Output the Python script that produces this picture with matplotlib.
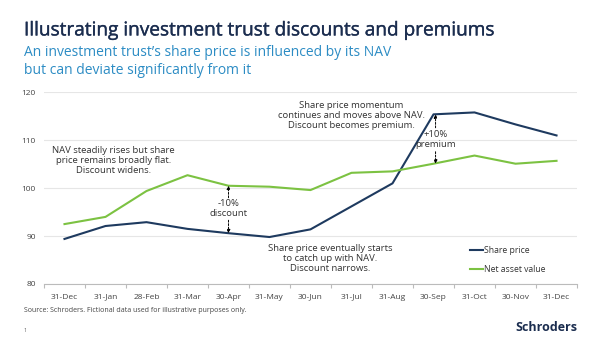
import matplotlib
matplotlib.use("Agg")
import matplotlib.pyplot as plt
import matplotlib.patheffects as pe
import numpy as np

months = ["31-Dec", "31-Jan", "28-Feb", "31-Mar", "30-Apr", "31-May", "30-Jun",
          "31-Jul", "31-Aug", "30-Sep", "31-Oct", "30-Nov", "31-Dec"]
share_price = [89.4, 92.1, 92.9, 91.5, 90.6, 89.8, 91.4, 96.2, 101.0, 115.4, 115.8, 113.3, 111.0]
nav = [92.5, 94.0, 99.4, 102.7, 100.5, 100.3, 99.6, 103.2, 103.5, 105.1, 106.8, 105.1, 105.7]
y_ticks = [80, 90, 100, 110, 120]

NAVY = "#1E3A5F"
GREEN = "#7CC242"
TEAL = "#2C8CC4"
TXT = "#333333"

plt.rcParams["font.family"] = ["Open Sans", "DejaVu Sans"]

fig = plt.figure(figsize=(6, 3.38), dpi=100)
ax = fig.add_axes([0.0733, 0.1598, 0.8884, 0.5671])

x = np.arange(len(months))
ax.plot(x, share_price, color=NAVY, lw=1.5, label="Share price", zorder=3)
ax.plot(x, nav, color=GREEN, lw=1.5, label="Net asset value", zorder=3)

ax.set_xlim(-0.5, len(months) - 0.5)
ax.set_ylim(80, 120)
ax.set_yticks(y_ticks)
ax.tick_params(axis="y", length=0, labelsize=6, colors="#444", pad=6)
ax.set_xticks(x)
ax.set_xticklabels(months)
ax.tick_params(axis="x", length=0, labelsize=6, colors="#444", pad=7)
ax.set_xticks(np.arange(-0.5, len(months)), minor=True)
ax.tick_params(axis="x", which="minor", length=3, color="#BBBBBB", width=0.8)
ax.grid(axis="y", color="#E6E6E6", lw=0.8, zorder=0)
for s in ["top", "right", "left"]:
    ax.spines[s].set_visible(False)
ax.spines["bottom"].set_color("#BBBBBB")
ax.spines["bottom"].set_linewidth(0.8)

fs = 6.8
ax.text(1.2, 105.8, "NAV steadily rises but share\nprice remains broadly flat.\nDiscount widens.",
        ha="center", va="center", fontsize=fs, color=TXT, linespacing=1.15)
ax.text(6.48, 85.3, "Share price eventually starts\nto catch up with NAV.\nDiscount narrows.",
        ha="center", va="center", fontsize=fs, color=TXT, linespacing=1.15)
ax.text(7.0, 115.1, "Share price momentum\ncontinues and moves above NAV.\nDiscount becomes premium.",
        ha="center", va="center", fontsize=fs, color=TXT, linespacing=1.15)

ax.text(4, 95.7, "-10%\ndiscount", ha="center", va="center", fontsize=fs, color=TXT, linespacing=1.15)
ax.text(9.05, 110.1, "+10%\npremium", ha="center", va="center", fontsize=fs, color=TXT, linespacing=1.15)

ap = dict(arrowstyle="-|>", color="black", lw=0.7, linestyle=(0, (2, 1.5)),
          mutation_scale=5, shrinkA=0, shrinkB=0)
ax.annotate("", xy=(4, nav[4]), xytext=(4, 98.0), arrowprops=ap)
ax.annotate("", xy=(4, share_price[4]), xytext=(4, 93.3), arrowprops=ap)
ax.annotate("", xy=(9.05, share_price[9]), xytext=(9.05, 112.6), arrowprops=ap)
ax.annotate("", xy=(9.05, nav[9]), xytext=(9.05, 107.6), arrowprops=ap)

ax.legend(loc="lower right", bbox_to_anchor=(0.955, 0.01), frameon=False, fontsize=6.2,
          handlelength=1.5, handletextpad=0.05, labelspacing=1.25, labelcolor=TXT)

fig.text(0.04, 0.910, "Illustrating investment trust discounts and premiums",
         fontsize=13.7, color="#1B2D4F", va="center", ha="left",
         path_effects=[pe.withStroke(linewidth=0.25, foreground="#1B2D4F")])
fig.text(0.04, 0.845, "An investment trust\u2019s share price is influenced by its NAV",
         fontsize=10, color=TEAL, va="center", ha="left")
fig.text(0.04, 0.79, "but can deviate significantly from it",
         fontsize=10, color=TEAL, va="center", ha="left")
fig.text(0.04, 0.080, "Source: Schroders. Fictional data used for illustrative purposes only.",
         fontsize=5, color="#444", va="center", ha="left")
fig.text(0.04, 0.021, "1", fontsize=4, color="#666", va="center", ha="left")
fig.text(0.962, 0.03, "Schroders", fontsize=9, color="#1B2D4F", weight="bold",
         va="center", ha="right")

fig.savefig("out.png", dpi=100)
